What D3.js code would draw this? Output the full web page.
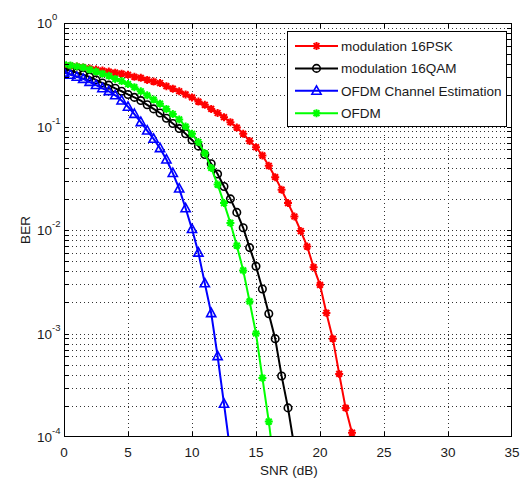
<!DOCTYPE html>
<html>
<head>
<meta charset="utf-8">
<script src="https://cdn.jsdelivr.net/npm/d3@7"></script>
<style>
  body { margin: 0; background: #fff; }
  text { font-family: "Liberation Sans", Arial, sans-serif; fill: #1a1a1a; }
</style>
</head>
<body>
<svg id="chart" width="522" height="480"></svg>
<script>
// SNR sample points (dB), every 0.5 dB
const snr = [0, 0.5, 1, 1.5, 2, 2.5, 3, 3.5, 4, 4.5, 5, 5.5, 6, 6.5, 7, 7.5, 8, 8.5, 9, 9.5,
  10, 10.5, 11, 11.5, 12, 12.5, 13, 13.5, 14, 14.5, 15, 15.5, 16, 16.5, 17, 17.5, 18, 18.5,
  19, 19.5, 20, 20.5, 21, 21.5, 22, 22.5, 23];

// BER
const ber16psk = [3.89e-1, 3.85e-1, 3.80e-1, 3.72e-1, 3.63e-1, 3.55e-1, 3.47e-1, 3.39e-1, 3.31e-1, 3.24e-1,
  3.16e-1, 3.02e-1, 2.95e-1, 2.82e-1, 2.72e-1, 2.63e-1, 2.45e-1, 2.32e-1, 2.19e-1, 2.04e-1,
  1.91e-1, 1.74e-1, 1.62e-1, 1.48e-1, 1.35e-1, 1.23e-1, 1.10e-1, 9.77e-2, 8.51e-2, 7.24e-2,
  6.31e-2, 5.25e-2, 4.17e-2, 3.24e-2, 2.45e-2, 1.82e-2, 1.35e-2, 9.77e-3, 6.92e-3, 4.37e-3,
  2.95e-3, 1.58e-3, 8.91e-4, 4.07e-4, 1.91e-4, 1.10e-4, 3.98e-5];

const ber16qam = [3.63e-1, 3.47e-1, 3.31e-1, 3.16e-1, 3.02e-1, 2.82e-1, 2.63e-1, 2.51e-1, 2.34e-1, 2.19e-1,
  2.04e-1, 1.91e-1, 1.78e-1, 1.62e-1, 1.48e-1, 1.35e-1, 1.20e-1, 1.07e-1, 9.55e-2, 8.51e-2,
  7.41e-2, 6.46e-2, 5.37e-2, 4.37e-2, 3.47e-2, 2.63e-2, 2.00e-2, 1.48e-2, 1.05e-2, 6.76e-3,
  4.47e-3, 2.69e-3, 1.55e-3, 8.91e-4, 3.89e-4, 1.91e-4, 7.94e-5];

const berOfdmEst = [3.31e-1, 3.16e-1, 3.02e-1, 2.88e-1, 2.69e-1, 2.51e-1, 2.34e-1, 2.19e-1, 2.00e-1, 1.78e-1,
  1.55e-1, 1.32e-1, 1.10e-1, 9.12e-2, 7.59e-2, 6.17e-2, 4.79e-2, 3.55e-2, 2.51e-2, 1.62e-2,
  1.02e-2, 6.03e-3, 3.05e-3, 1.57e-3, 6.03e-4, 2.09e-4, 7.08e-5];

const berOfdm = [3.98e-1, 3.89e-1, 3.80e-1, 3.72e-1, 3.55e-1, 3.39e-1, 3.24e-1, 3.09e-1, 2.88e-1, 2.75e-1,
  2.57e-1, 2.40e-1, 2.19e-1, 2.00e-1, 1.82e-1, 1.66e-1, 1.48e-1, 1.32e-1, 1.17e-1, 1.00e-1,
  8.51e-2, 7.08e-2, 5.50e-2, 3.98e-2, 2.75e-2, 1.82e-2, 1.17e-2, 7.08e-3, 4.07e-3, 2.04e-3,
  1.00e-3, 3.72e-4, 1.41e-4, 4.47e-5];

const seriesNames = ['modulation 16PSK', 'modulation 16QAM', 'OFDM Channel Estimation', 'OFDM'];
const seriesColors = ['#ff0000', '#000000', '#0000ff', '#00ff00'];
const seriesMarkers = ['star', 'circle', 'triangle', 'star'];
const seriesValues = [ber16psk, ber16qam, berOfdmEst, berOfdm];

const xTicks = [0, 5, 10, 15, 20, 25, 30, 35];
const yDecades = [0, -1, -2, -3, -4];

const margin = { left: 64, right: 10, top: 23, bottom: 43 };
const size = { width: 522, height: 480 };

const svg = d3.select('#chart');

const x = d3.scaleLinear().domain([0, 35]).range([margin.left, size.width - margin.right]);
const y = d3.scaleLog().domain([1e-4, 1]).range([size.height - margin.bottom, margin.top]);

const x0 = x.range()[0], x1 = x.range()[1];
const y0 = y.range()[0], y1 = y.range()[1];

// minor log positions 2..9 in every decade
const minorY = [];
yDecades.slice(1).forEach(e => {
  for (let k = 2; k <= 9; k++) minorY.push(k * Math.pow(10, e));
});

// grid
const grid = svg.append('g')
  .attr('stroke', '#333')
  .attr('stroke-width', 1)
  .attr('stroke-dasharray', '1,3')
  .attr('shape-rendering', 'crispEdges');

grid.selectAll('line.gx')
  .data(xTicks.slice(1, -1))
  .enter().append('line')
  .attr('x1', d => Math.round(x(d)) + 0.5).attr('x2', d => Math.round(x(d)) + 0.5)
  .attr('y1', y1).attr('y2', y0);

grid.selectAll('line.gy')
  .data(minorY.concat(yDecades.slice(1, -1).map(e => Math.pow(10, e))))
  .enter().append('line')
  .attr('x1', x0).attr('x2', x1)
  .attr('y1', d => Math.round(y(d)) + 0.5).attr('y2', d => Math.round(y(d)) + 0.5);

// clip for curves
svg.append('clipPath').attr('id', 'plot-clip')
  .append('rect')
  .attr('x', x0).attr('y', y1)
  .attr('width', x1 - x0).attr('height', y0 - y1);

const markerPath = (type) => {
  if (type === 'star') {
    const r = 4, s = 2.9;
    return `M0,${-r}L0,${r}M${-r},0L${r},0M${-s},${-s}L${s},${s}M${-s},${s}L${s},${-s}`;
  }
  if (type === 'triangle') return 'M0,-5L4.6,3.4L-4.6,3.4Z';
  return d3.symbol(d3.symbolCircle, 44)();
};

const line = d3.line()
  .x(d => x(d[0]))
  .y(d => y(d[1]));

const curves = svg.append('g').attr('clip-path', 'url(#plot-clip)');

seriesValues.forEach((vals, i) => {
  const pts = vals.map((v, j) => [snr[j], v]);
  const g = curves.append('g');
  g.append('path')
    .datum(pts)
    .attr('d', line)
    .attr('fill', 'none')
    .attr('stroke', seriesColors[i])
    .attr('stroke-width', 2);

  g.selectAll('path.mk')
    .data(pts)
    .enter().append('path')
    .attr('class', 'mk')
    .attr('transform', d => `translate(${x(d[0])},${y(d[1])})`)
    .attr('d', markerPath(seriesMarkers[i]))
    .attr('fill', 'none')
    .attr('stroke', seriesColors[i])
    .attr('stroke-width', seriesMarkers[i] === 'star' ? 2 : 1.6);
});

// axes box
svg.append('rect')
  .attr('x', x0 + 0.5).attr('y', y1 + 0.5)
  .attr('width', x1 - x0 - 1).attr('height', y0 - y1 - 1)
  .attr('fill', 'none')
  .attr('stroke', '#000')
  .attr('stroke-width', 1)
  .attr('shape-rendering', 'crispEdges');

// inward tick marks
const ticks = svg.append('g').attr('stroke', '#000').attr('shape-rendering', 'crispEdges');
const tickLen = 5;
xTicks.slice(1, -1).forEach(t => {
  const px = Math.round(x(t)) + 0.5;
  ticks.append('line').attr('x1', px).attr('x2', px).attr('y1', y0).attr('y2', y0 - tickLen);
  ticks.append('line').attr('x1', px).attr('x2', px).attr('y1', y1).attr('y2', y1 + tickLen);
});
minorY.concat(yDecades.slice(1, -1).map(e => Math.pow(10, e))).forEach(v => {
  const py = Math.round(y(v)) + 0.5;
  ticks.append('line').attr('x1', x0).attr('x2', x0 + tickLen).attr('y1', py).attr('y2', py);
  ticks.append('line').attr('x1', x1).attr('x2', x1 - tickLen).attr('y1', py).attr('y2', py);
});

// x tick labels
svg.append('g').selectAll('text')
  .data(xTicks)
  .enter().append('text')
  .attr('x', d => x(d))
  .attr('y', y0 + 20)
  .attr('text-anchor', 'middle')
  .attr('font-size', 13.5)
  .text(d => d);

// y tick labels as 10^n
const yLab = svg.append('g').selectAll('text')
  .data(yDecades)
  .enter().append('text')
  .attr('x', 37)
  .attr('y', d => y(Math.pow(10, d)) + 5)
  .attr('font-size', 13.5);
yLab.append('tspan').text('10');
yLab.append('tspan')
  .attr('dy', -8)
  .attr('font-size', 9.5)
  .text(d => d);

// axis titles
svg.append('text')
  .attr('x', (x0 + x1) / 2 + 1)
  .attr('y', 475)
  .attr('text-anchor', 'middle')
  .attr('font-size', 13.5)
  .text('SNR (dB)');

svg.append('text')
  .attr('transform', `translate(30, ${(y0 + y1) / 2}) rotate(-90)`)
  .attr('text-anchor', 'middle')
  .attr('font-size', 13.5)
  .text('BER');

// legend
const legend = svg.append('g').attr('transform', 'translate(287, 31)');
legend.append('rect')
  .attr('x', 0.5).attr('y', 0.5)
  .attr('width', 219).attr('height', 95)
  .attr('fill', '#fff')
  .attr('stroke', '#000')
  .attr('shape-rendering', 'crispEdges');

seriesNames.forEach((name, i) => {
  const cy = 15 + i * 22.4;
  const row = legend.append('g');
  row.append('line')
    .attr('x1', 8).attr('x2', 51)
    .attr('y1', cy).attr('y2', cy)
    .attr('stroke', seriesColors[i])
    .attr('stroke-width', 2);
  row.append('path')
    .attr('transform', `translate(29.5,${cy})`)
    .attr('d', markerPath(seriesMarkers[i]))
    .attr('fill', 'none')
    .attr('stroke', seriesColors[i])
    .attr('stroke-width', seriesMarkers[i] === 'star' ? 2 : 1.6);
  row.append('text')
    .attr('x', 54)
    .attr('y', cy + 5)
    .attr('font-size', 13.5)
    .text(name);
});
</script>
</body>
</html>
